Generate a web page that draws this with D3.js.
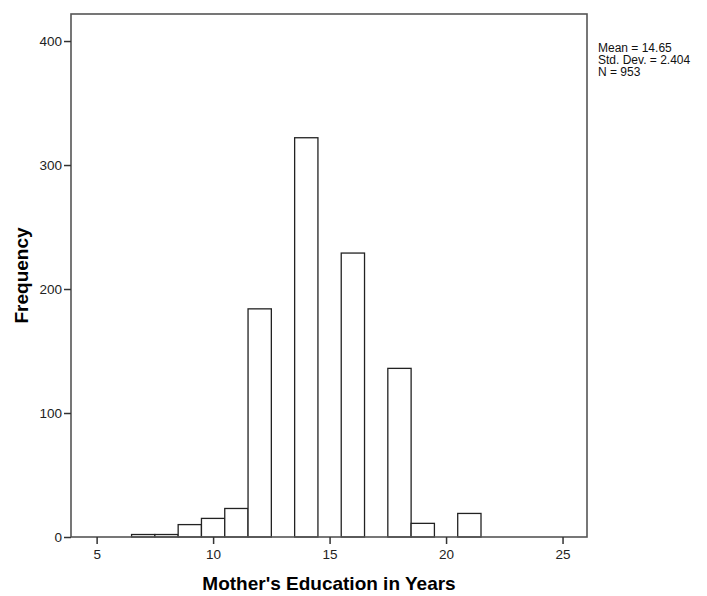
<!DOCTYPE html>
<meta charset="utf-8">
<title>Mother's Education in Years</title>
<script src="https://d3js.org/d3.v7.min.js"></script>
<style>
  body { margin: 0; background: #fff; }
  text { font-family: "Liberation Sans", Arial, sans-serif; }
</style>
<body>
<script>

var w = 707
var h = 596

// histogram bins (centred on whole years) and counts
var years = [7, 8, 9, 10, 11, 12, 14, 16, 18, 19, 21]
var counts = [2, 2, 10, 15, 23, 184, 322, 229, 136, 11, 19]
var xTicks = [5, 10, 15, 20, 25]
var yTicks = [0, 100, 200, 300, 400]
var stats = ["Mean = 14.65", "Std. Dev. = 2.404", "N = 953"]

// plot box edges
var pLeft = 71, pRight = 587, pTop = 14, pBottom = 537

var svg = d3.select("body")
  .append("svg")
  .attr("width", w)
  .attr("height", h);

var x = d3.scaleLinear().domain([3.9, 26.05]).range([pLeft, pRight]);
var y = d3.scaleLinear().domain([0, 421.8]).range([pBottom, pTop]);

// bars
svg.append("g")
  .selectAll("rect")
  .data(years)
  .enter()
  .append("rect")
    .attr("x", function(d) { return x(d - 0.5); })
    .attr("width", function(d) { return x(d + 0.5) - x(d - 0.5); })
    .attr("y", function(d, i) { return y(counts[i]); })
    .attr("height", function(d, i) { return y(0) - y(counts[i]); })
    .attr("fill", "#fff")
    .attr("stroke", "#222")
    .attr("stroke-width", 1.3);

// frame
svg.append("rect")
  .attr("x", pLeft)
  .attr("y", pTop)
  .attr("width", pRight - pLeft)
  .attr("height", pBottom - pTop)
  .attr("fill", "none")
  .attr("stroke", "#555")
  .attr("stroke-width", 1.6);

// axes
var xAxis = svg.append("g")
  .attr("transform", "translate(0," + pBottom + ")")
  .call(d3.axisBottom(x).tickValues(xTicks).tickSize(7).tickPadding(5));
var yAxis = svg.append("g")
  .attr("transform", "translate(" + pLeft + ",0)")
  .call(d3.axisLeft(y).tickValues(yTicks).tickSize(7).tickPadding(2));

[xAxis, yAxis].forEach(function(a) {
  a.select(".domain").remove();
  a.selectAll(".tick line").attr("stroke", "#333").attr("stroke-width", 1.5);
  a.selectAll(".tick text")
    .attr("fill", "#222")
    .style("font-size", "13.5px")
    .style("font-family", "'Liberation Sans', Arial, sans-serif");
});

// axis titles
svg.append("text")
  .attr("x", 329)
  .attr("y", 590)
  .attr("text-anchor", "middle")
  .style("font-size", "19px")
  .style("font-weight", "bold")
  .text("Mother's Education in Years");

svg.append("text")
  .attr("transform", "translate(28,275.5) rotate(-90)")
  .attr("text-anchor", "middle")
  .style("font-size", "19px")
  .style("font-weight", "bold")
  .text("Frequency");

// summary stats (tight SPSS-style line spacing)
svg.append("g")
  .selectAll("text")
  .data(stats)
  .enter()
  .append("text")
    .attr("x", 598)
    .attr("y", function(d, i) { return 51.7 + i * 11.9; })
    .style("font-size", "12px")
    .attr("fill", "#111")
    .text(function(d) { return d; });

</script>
</body>
